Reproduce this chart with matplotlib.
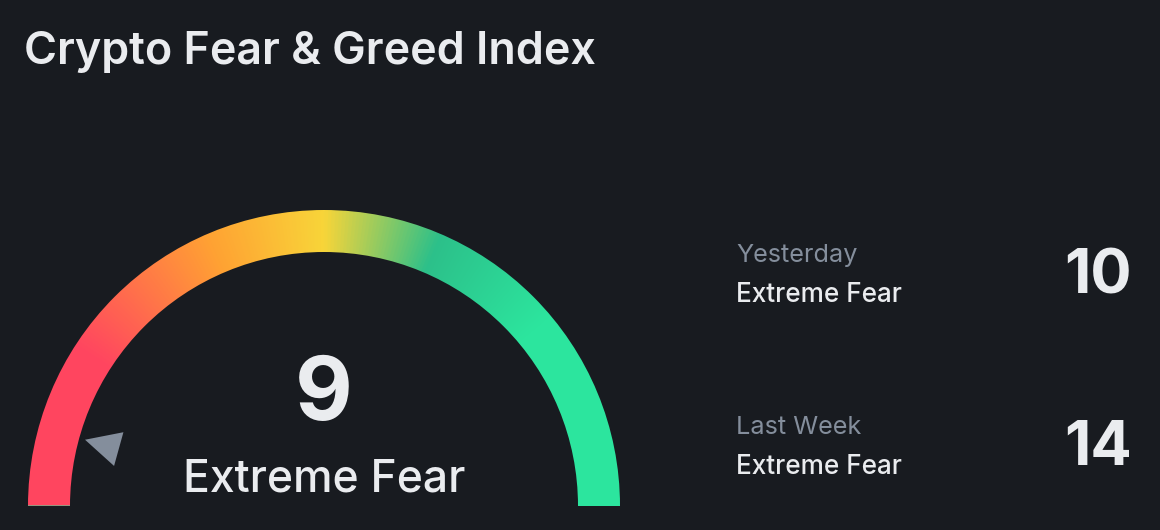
import numpy as np
import matplotlib
matplotlib.use("Agg")
import matplotlib.pyplot as plt
from matplotlib.colors import LinearSegmentedColormap
from matplotlib.patches import Wedge, Polygon

title = "Crypto Fear & Greed Index"
current_value = 9
current_label = "Extreme Fear"
history_periods = ["Yesterday", "Last Week"]
history_labels = ["Extreme Fear", "Extreme Fear"]
history_values = [10, 14]
gradient_stops = [0, 18, 37, 50, 63, 78, 100]
gradient_colors = ["#FF4560", "#FF4560", "#FFA233", "#F8D539", "#2CC08A", "#2CE59E", "#2CE59E"]

BG = "#181B20"
TXT = "#EAECEF"
FONT = "Inter"

fig = plt.figure(figsize=(11.6, 5.3), dpi=100, facecolor=BG)
ax = fig.add_axes([0, 0, 1, 1])
ax.set_xlim(0, 1160)
ax.set_ylim(530, 0)
ax.axis("off")

cx, cy, r_out, r_in = 324, 506, 296, 254
cmap = LinearSegmentedColormap.from_list(
    "gauge", [(s / 100, c) for s, c in zip(gradient_stops, gradient_colors)])
xs = np.arange(cx - r_out - 2, cx + r_out + 2, 0.5)
ys = np.arange(cy - r_out - 2, cy + 1, 0.5)
X, Y = np.meshgrid(xs, ys)
pct = np.degrees(np.arctan2(cy - Y, X - cx))
pct = np.clip((180 - pct) / 180 * 100, 0, 100)
im = ax.imshow(pct, cmap=cmap, vmin=0, vmax=100, interpolation="bilinear",
               extent=(xs[0], xs[-1], ys[-1], ys[0]), aspect="auto", zorder=2)
ax.set_xlim(0, 1160)
ax.set_ylim(530, 0)
clip = Wedge((cx, cy), r_out, 180, 360, width=r_out - r_in, transform=ax.transData,
             fc="none", ec="none")
ax.add_patch(clip)
im.set_clip_path(clip)

# needle
th = np.radians(current_value / 100 * 180 - 0.7)
u = np.array([-np.cos(th), -np.sin(th)])
v = np.array([-u[1], u[0]])
c = np.array([cx, cy], float)
pts = [c + 248 * u, c + 213 * u + 17.5 * v, c + 213 * u - 17.5 * v]
ax.add_patch(Polygon(pts, closed=True, fc="#848E9C", ec="none", zorder=3))

def T(x, y, s, size, color=TXT, weight="normal", ha="left"):
    ax.text(x, y, s, fontsize=size, color=color, fontweight=weight, ha=ha,
            va="baseline", family=FONT, zorder=4)

T(24, 64, title, 32.3, weight="semibold")
T(324, 420, str(current_value), 64, weight="bold", ha="center")
T(324, 492, current_label, 32, ha="center", weight="medium")
for i, yb in enumerate([262, 434]):
    T(736, yb, history_periods[i], 18.2, color="#848E9C")
    T(736, yb + 40, history_labels[i], 18.8, weight="medium")
    T(1132, yb + 31, str(history_values[i]), 44, weight="bold", ha="right")

fig.savefig("out.png", dpi=100, facecolor=BG)
